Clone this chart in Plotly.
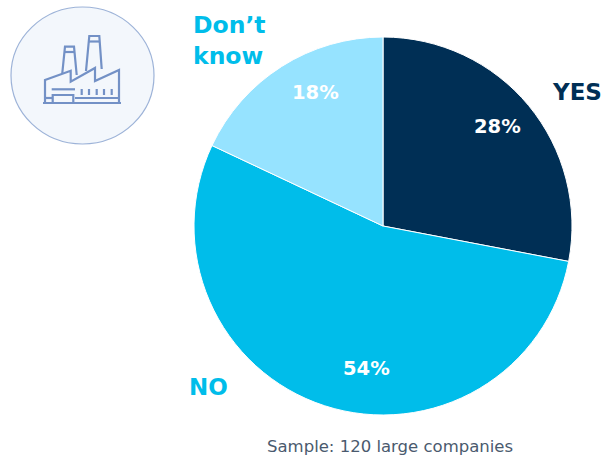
import plotly.graph_objects as go

W, H = 603, 459

categories = ["YES", "NO", "Don't know"]
shares = [28, 54, 18]
slice_colors = ["#002f55", "#00bdea", "#96e3ff"]
sample_note = "Sample: 120 large companies"


def fx(x):
    return x / W


def fy(y):
    return 1 - y / H


def outline(points, closed=False):
    path = "M " + " L ".join(f"{fx(x):.5f},{fy(y):.5f}" for x, y in points)
    return path + (" Z" if closed else "")


fig = go.Figure(
    go.Pie(
        labels=categories,
        values=shares,
        sort=False,
        direction="clockwise",
        rotation=0,
        textinfo="none",
        hoverinfo="label+percent",
        marker=dict(colors=slice_colors, line=dict(color="#ffffff", width=1)),
        domain=dict(x=[fx(194), fx(572)], y=[fy(415), fy(37)]),
        showlegend=False,
    )
)

FONT = "'DejaVu Sans', Verdana, sans-serif"


def label(x, y, text, color, size, weight=700, anchor="center"):
    fig.add_annotation(
        x=fx(x), y=fy(y), xref="paper", yref="paper", text=text, showarrow=False,
        xanchor=anchor, yanchor="middle", align="left",
        font=dict(family=FONT, size=size, color=color, weight=weight),
    )


# percentages inside the slices
for (px, py), value in zip([(497, 126), (366, 368), (315, 93)], shares):
    label(px, py, f"{value}%", "#ffffff", 19.5)

# category names around the pie
label(577, 92, categories[0], "#002f55", 23)
label(208, 387, categories[1], "#00bdea", 23)
label(229, 41, "Don’t<br>know", "#00bdea", 23.5)
label(389.5, 446, sample_note, "#4a5a6e", 16.5, 400)

# factory badge
ICON = "#7391c6"
shapes = [
    dict(type="circle", xref="paper", yref="paper",
         x0=fx(11), x1=fx(154), y0=fy(144), y1=fy(7),
         fillcolor="#f3f7fc", line=dict(color="#9db3d8", width=1.2)),
]
icon_paths = [
    # roof line and walls
    [(45, 103), (45, 80), (70.7, 70.7), (70.7, 81.7), (95, 68), (95, 81), (119, 70), (119, 103)],
    # ground
    [(43, 103), (121, 103)],
    # chimneys
    [(62.3, 73), (65, 46.7), (74, 46.7), (76.7, 75)],
    [(86, 71), (89.3, 36), (99.3, 36), (101.7, 69)],
    [(64.5, 52), (74.5, 52)],
    [(89, 41.5), (100, 41.5)],
    # gate and lower stripes
    [(52.7, 103), (52.7, 95), (73.3, 95), (73.3, 103)],
    [(51.7, 89.3), (75, 89.3)],
    [(45, 98), (52.7, 98)],
    [(75, 98), (119, 98)],
    # windows
    [(81.7, 89), (81.7, 95)],
    [(89, 89), (89, 95)],
    [(96.7, 89), (96.7, 95)],
    [(104, 89), (104, 95)],
    [(111.7, 89), (111.7, 95)],
]
for pts in icon_paths:
    shapes.append(dict(type="path", xref="paper", yref="paper", path=outline(pts),
                       line=dict(color=ICON, width=2.2)))

fig.update_layout(
    width=W, height=H, margin=dict(l=0, r=0, t=0, b=0),
    paper_bgcolor="#ffffff", plot_bgcolor="#ffffff", shapes=shapes,
)
fig.write_html("out.html")
